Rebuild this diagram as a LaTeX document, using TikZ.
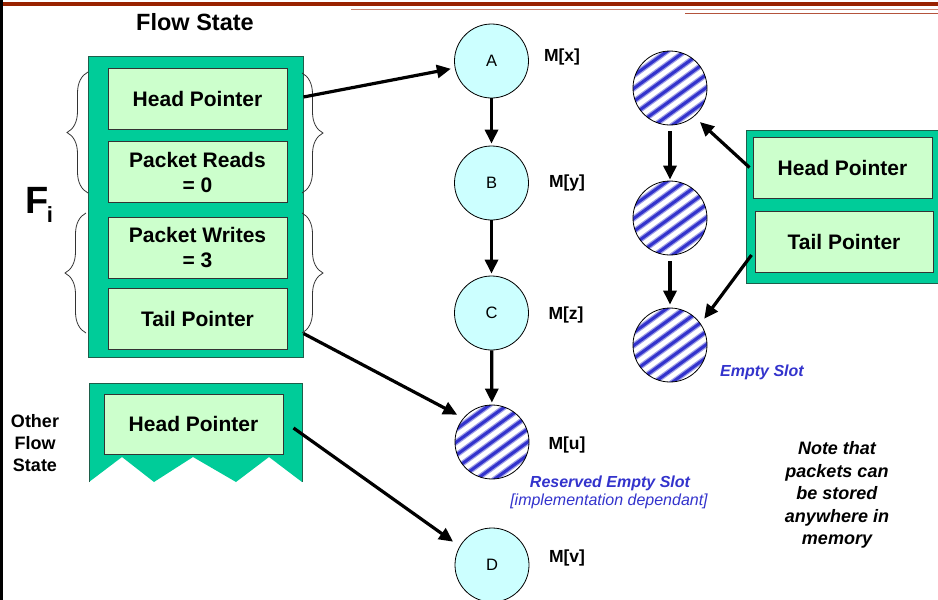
\documentclass[tikz,border=0pt]{standalone}
\usepackage{fontspec}
\setmainfont{Liberation Sans}
\usetikzlibrary{arrows.meta,calc,decorations.pathreplacing}

\definecolor{topred}{HTML}{992200}
\definecolor{thinred}{HTML}{C98470}
\definecolor{thinred2}{HTML}{B4533C}
\definecolor{fsgreen}{HTML}{00CC99}
\definecolor{fsedge}{HTML}{1E5E4A}
\definecolor{slotgreen}{HTML}{CCFFCC}
\definecolor{cellcyan}{HTML}{CCFFFF}
\definecolor{stripeblue}{HTML}{3333CC}
\definecolor{stripesoft}{HTML}{A0A0E8}

\newcommand{\fsz}[2]{\fontsize{#1}{#2}\selectfont}

\begin{document}
\begin{tikzpicture}[x=1pt,y=-1pt,
  outerbox/.style={draw=fsedge, line width=1pt, fill=fsgreen},
  slotbox/.style={draw=black!80, line width=1pt, fill=slotgreen,
    minimum width=179pt, minimum height=61pt, inner sep=0pt,
    align=center, font=\fsz{21}{25}\bfseries},
  cell/.style={circle, draw=black, line width=0.8pt, fill=cellcyan,
    minimum size=74pt, inner sep=0pt, font=\fsz{16.5}{20}},
  % diagonal stripes rising to the right, about 36 degrees
  hatched/.style={circle, draw=black, line width=0.8pt, fill=white,
    minimum size=74pt, inner sep=0pt,
    path picture={
      \foreach \k in {-5,...,5}{
        \draw[stripesoft, line width=5.5pt]
          ($(path picture bounding box.center)+(\k*6.17-48.5,\k*8.49+35.3)$) -- ++(97,-70.5);
        \draw[stripeblue, line width=3pt]
          ($(path picture bounding box.center)+(\k*6.17-48.5,\k*8.49+35.3)$) -- ++(97,-70.5);
      }}},
  addr/.style={font=\fsz{17.5}{21}\bfseries},
  note/.style={align=center, font=\fsz{18}{22.5}\bfseries\itshape},
  bluenote/.style={text=stripeblue, align=center},
  arr/.style={line width=3.2pt, -{Triangle[length=14pt,width=13pt]}},
  bracket/.style={draw=black!80, line width=0.8pt,
    decorate, decoration={brace, amplitude=21pt}},
  bracketm/.style={bracket, decoration={brace, amplitude=21pt, mirror}}
]
\useasboundingbox (0,0) rectangle (938,600);

% page rules
\draw[topred, line width=4pt] (3,4) -- (938,4);
\draw[thinred, line width=1.5pt] (351,9.5) -- (938,9.5);
\draw[thinred2, line width=1.2pt] (685,13.5) -- (938,13.5);
\draw[black, line width=2.6pt] (1.5,0) -- (1.5,600);

% flow state F_i
\node[font=\fsz{23.5}{28}\bfseries] (title) at (195,22) {Flow State};
\node[outerbox, minimum width=215pt, minimum height=301pt, inner sep=0pt] (fs) at (195.5,206.5) {};
\node[slotbox] (hp1) at (197.5,98.5) {Head Pointer};
\node[slotbox] (pr)  at (197.5,172)  {Packet Reads\\= 0};
\node[slotbox] (pw)  at (197.5,247.5) {Packet Writes\\= 3};
\node[slotbox] (tp)  at (197.5,318.5) {Tail Pointer};

\node[font=\fsz{38}{40}\bfseries, anchor=base] (F) at (37,213) {F};
\node[font=\fsz{22}{24}\bfseries, anchor=base] (Fi) at (50,222) {i};

% braces grouping the fields
\draw[bracketm] (88,72) -- (88,193);
\draw[bracket]  (302,73) -- (302,193);
\draw[bracketm] (86,213) -- (86,333);
\draw[bracket]  (302,213) -- (302,333);

% other flow state (torn box)
\fill[fsgreen] (89,383) -- (302,383) -- (302,482) -- (269,457) -- (236,482)
  -- (193,457) -- (154,482) -- (122,457) -- (89,482) -- cycle;
\draw[fsedge, line width=1pt] (89,482) -- (89,383) -- (302,383) -- (302,482);
\node[slotbox, minimum height=60pt] (hp2) at (193.5,424) {Head Pointer};
\node[align=center, font=\fsz{18}{22}\bfseries] (other) at (35,443) {Other\\Flow\\State};

% memory cells of the flow
\node[cell] (A) at (491.5,61) {A};
\node[cell] (B) at (491.5,183) {B};
\node[cell] (C) at (491.5,313) {C};
\node[hatched] (U) at (492,442) {};
\node[cell] (D) at (492,565) {D};

\node[addr] (mx) at (562,57)  {M[x]};
\node[addr] (my) at (567,183) {M[y]};
\node[addr] (mz) at (566,315) {M[z]};
\node[addr] (mu) at (567,445) {M[u]};
\node[addr] (mv) at (567,558) {M[v]};

\node[bluenote, font=\fsz{16}{19}\bfseries\itshape] (rsv) at (610,483) {Reserved Empty Slot};
\node[bluenote, font=\fsz{16}{19}\itshape] (impl) at (609,501) {[implementation dependant]};

\draw[arr, shorten >=2pt] (A) -- (B);
\draw[arr, shorten >=2pt] (B) -- (C);
\draw[arr, shorten >=2pt] (C) -- (U);

\draw[arr, shorten >=4pt] ($(fs.east |- hp1)+(0,-1.5)$) -- (A);
\draw[arr, shorten >=7pt] ($(tp.south east)+(16,-16)$) -- (U.140);
\draw[arr, shorten >=8pt] ($(hp2.east)+(10,4)$) -- (D.150);

% free list
\node[hatched] (E1) at (670,88) {};
\node[hatched] (E2) at (670,218) {};
\node[hatched] (E3) at (670,345) {};
\node[bluenote, font=\fsz{16}{19}\bfseries\itshape] (empty) at (762,372) {Empty Slot};

\node[outerbox, minimum width=194pt, minimum height=153pt, inner sep=0pt] (rb) at (843,206.5) {};
\node[slotbox] (hp3) at (842.5,167.5) {Head Pointer};
\node[slotbox, minimum width=178pt] (tp3) at (844,241.5) {Tail Pointer};

\draw[arr, shorten <=6pt, shorten >=1pt] (E1) -- (E2);
\draw[arr, shorten <=6pt, shorten >=3pt] (E2) -- (E3);
\draw[arr, shorten >=8pt] ($(hp3.west)+(-3,0)$) -- (E1.-50);
\draw[arr, shorten >=6pt] ($(tp3.west)+(-3,13.5)$) -- (E3.35);

% remark
\node[note] (remark) at (837,495) {Note that\\packets can\\be stored\\anywhere in\\memory};
\end{tikzpicture}
\end{document}
